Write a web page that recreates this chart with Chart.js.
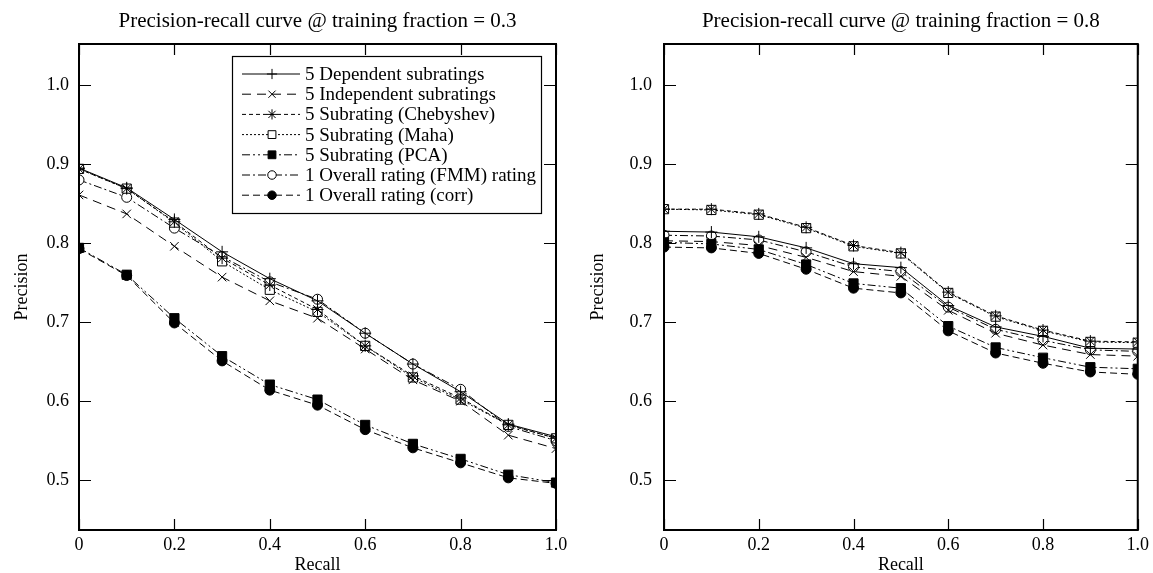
<!DOCTYPE html>
<html>
<head>
<meta charset="utf-8">
<script src="https://cdn.jsdelivr.net/npm/chart.js@4.4.1/dist/chart.umd.min.js"></script>
<style>
  html, body { margin: 0; padding: 0; background: #ffffff; }
  #wrap { position: relative; width: 1153px; height: 573px; }
  canvas { position: absolute; top: 0; }
  #c1 { left: 0; }
  #c2 { left: 576px; }
</style>
</head>
<body>
<div id="wrap">
  <canvas id="c1" width="576" height="573"></canvas>
  <canvas id="c2" width="577" height="573"></canvas>
</div>
<script>
// ---------- data ----------
const recall = [0, 0.1, 0.2, 0.3, 0.4, 0.5, 0.6, 0.7, 0.8, 0.9, 1.0];
const xTickValues = [0, 0.2, 0.4, 0.6, 0.8, 1.0];
const xTickLabels = ["0", "0.2", "0.4", "0.6", "0.8", "1.0"];
const yTickValues = [0.5, 0.6, 0.7, 0.8, 0.9, 1.0];
const yTickLabels = ["0.5", "0.6", "0.7", "0.8", "0.9", "1.0"];

const seriesNames = [
  "5 Dependent subratings",
  "5 Independent subratings",
  "5 Subrating (Chebyshev)",
  "5 Subrating (Maha)",
  "5 Subrating (PCA)",
  "1 Overall rating (FMM) rating",
  "1 Overall rating (corr)"
];

const titleLeft = "Precision-recall curve @ training fraction = 0.3";
const titleRight = "Precision-recall curve @ training fraction = 0.8";

// training fraction 0.3
const left_dependent   = [0.895, 0.870, 0.830, 0.789, 0.755, 0.727, 0.686, 0.647, 0.612, 0.571, 0.555];
const left_independent = [0.861, 0.837, 0.796, 0.757, 0.727, 0.705, 0.666, 0.627, 0.600, 0.557, 0.540];
const left_chebyshev   = [0.894, 0.869, 0.827, 0.781, 0.747, 0.716, 0.670, 0.632, 0.604, 0.570, 0.553];
const left_maha        = [0.894, 0.869, 0.826, 0.777, 0.741, 0.713, 0.670, 0.630, 0.602, 0.570, 0.553];
const left_pca         = [0.794, 0.760, 0.705, 0.657, 0.621, 0.602, 0.570, 0.546, 0.527, 0.507, 0.497];
const left_fmm         = [0.880, 0.858, 0.819, 0.783, 0.751, 0.729, 0.686, 0.647, 0.615, 0.568, 0.550];
const left_corr        = [0.793, 0.759, 0.699, 0.651, 0.614, 0.595, 0.564, 0.541, 0.522, 0.503, 0.496];

// training fraction 0.8
const right_dependent   = [0.815, 0.814, 0.808, 0.794, 0.774, 0.769, 0.721, 0.694, 0.682, 0.667, 0.666];
const right_independent = [0.803, 0.802, 0.797, 0.782, 0.764, 0.758, 0.715, 0.686, 0.671, 0.659, 0.657];
const right_chebyshev   = [0.843, 0.843, 0.837, 0.820, 0.797, 0.788, 0.738, 0.708, 0.690, 0.676, 0.675];
const right_maha        = [0.843, 0.842, 0.836, 0.819, 0.796, 0.787, 0.737, 0.707, 0.689, 0.675, 0.674];
const right_pca         = [0.801, 0.799, 0.792, 0.773, 0.749, 0.743, 0.695, 0.668, 0.655, 0.643, 0.641];
const right_fmm         = [0.810, 0.809, 0.804, 0.789, 0.770, 0.764, 0.719, 0.691, 0.677, 0.665, 0.663];
const right_corr        = [0.795, 0.794, 0.787, 0.767, 0.743, 0.737, 0.689, 0.661, 0.648, 0.637, 0.634];

// ---------- styles ----------
const FONT = "'Liberation Serif', 'Times New Roman', serif";
const FS_TICK = 18;
const FS_LEGEND = 19;
const FS_TITLE = 21;
const styles = [
  { pointStyle: 'cross',    radius: 6,   fill: '#000', dash: [] },
  { pointStyle: 'crossRot', radius: 6,   fill: '#000', dash: [9, 6] },
  { pointStyle: 'star',     radius: 6,   fill: '#000', dash: [4, 3] },
  { pointStyle: 'rect',     radius: 6.5, fill: '#fff', dash: [2, 2] },
  { pointStyle: 'rect',     radius: 6.5, fill: '#000', dash: [8, 3, 2, 3, 2, 3] },
  { pointStyle: 'circle',   radius: 5,   fill: '#fff', dash: [8, 3, 2, 3] },
  { pointStyle: 'circle',   radius: 5,   fill: '#000', dash: [7, 4] }
];

function makeDatasets(arrays) {
  return arrays.map((arr, i) => ({
    label: seriesNames[i],
    data: recall.map((r, k) => ({ x: r, y: arr[k] })),
    borderColor: '#000',
    backgroundColor: styles[i].fill,
    borderWidth: 1,
    borderDash: styles[i].dash,
    pointStyle: styles[i].pointStyle,
    pointRadius: styles[i].radius,
    pointBorderColor: '#000',
    pointBackgroundColor: styles[i].fill,
    pointBorderWidth: 1,
    tension: 0,
    fill: false
  }));
}

const framePlugin = {
  id: 'frame',
  afterDatasetsDraw(chart) {
    const { ctx, chartArea: a, scales: { x, y } } = chart;
    ctx.save();
    ctx.strokeStyle = '#000';
    ctx.lineWidth = 1.2;
    ctx.setLineDash([]);
    ctx.beginPath();
    xTickValues.forEach(v => {
      const px = Math.round(x.getPixelForValue(v)) + 0.5;
      ctx.moveTo(px, a.bottom); ctx.lineTo(px, a.bottom - 11);
      ctx.moveTo(px, a.top); ctx.lineTo(px, a.top + 11);
    });
    yTickValues.forEach(v => {
      const py = Math.round(y.getPixelForValue(v)) + 0.5;
      ctx.moveTo(a.left, py); ctx.lineTo(a.left + 12, py);
      ctx.moveTo(a.right, py); ctx.lineTo(a.right - 12, py);
    });
    ctx.stroke();
    ctx.lineWidth = 2;
    ctx.strokeRect(a.left, a.top, a.right - a.left, a.bottom - a.top);
    // title
    ctx.fillStyle = '#000';
    ctx.font = FS_TITLE + 'px ' + FONT;
    ctx.textAlign = 'center';
    ctx.textBaseline = 'middle';
    ctx.fillText(chart.options.plugins.frame.title, (a.left + a.right) / 2, 21);
    // legend
    if (chart.options.plugins.frame.legend) {
      const bx = 232, by = 56, bw = 309, bh = 157;
      ctx.fillStyle = '#fff';
      ctx.fillRect(bx, by, bw, bh);
      ctx.lineWidth = 1.2;
      ctx.strokeStyle = '#000';
      ctx.strokeRect(bx + 0.5, by + 0.5, bw, bh);
      seriesNames.forEach((name, i) => {
        const yy = 74 + i * 20.2;
        const st = styles[i];
        ctx.save();
        ctx.strokeStyle = '#000';
        ctx.lineWidth = 1;
        ctx.setLineDash(st.dash);
        ctx.beginPath();
        ctx.moveTo(242, yy); ctx.lineTo(300, yy);
        ctx.stroke();
        ctx.setLineDash([]);
        ctx.fillStyle = st.fill;
        ctx.strokeStyle = '#000';
        ctx.lineWidth = 1;
        Chart.helpers.drawPoint(ctx, { pointStyle: st.pointStyle, radius: st.radius * 0.85, rotation: 0, borderWidth: 1 }, 272, yy);
        ctx.restore();
        ctx.fillStyle = '#000';
        ctx.font = FS_LEGEND + 'px ' + FONT;
        ctx.textAlign = 'left';
        ctx.textBaseline = 'middle';
        ctx.fillText(name, 305, yy + 1);
      });
    }
    ctx.restore();
  }
};

function makeChart(canvasId, arrays, title, legend, yAxisWidth, rightPad, tickPad) {
  return new Chart(document.getElementById(canvasId), {
    type: 'line',
    data: { datasets: makeDatasets(arrays) },
    plugins: [framePlugin],
    options: {
      responsive: false,
      devicePixelRatio: 1,
      animation: false,
      layout: { padding: { top: 44, right: rightPad, left: 0, bottom: 0 } },
      plugins: {
        legend: { display: false },
        tooltip: { enabled: false },
        title: { display: false },
        frame: { title: title, legend: legend }
      },
      scales: {
        x: {
          type: 'linear',
          min: 0, max: 1,
          grid: { display: false, drawTicks: false },
          border: { display: false },
          afterBuildTicks: s => { s.ticks = xTickValues.map(v => ({ value: v })); },
          afterFit: s => { s.height = 43; },
          ticks: {
            color: '#000',
            font: { family: FONT, size: FS_TICK },
            padding: 4,
            maxRotation: 0,
            callback: (v) => xTickLabels[xTickValues.indexOf(v)]
          },
          title: { display: true, text: 'Recall', color: '#000', font: { family: FONT, size: FS_TICK }, padding: { top: 0, bottom: -3 } }
        },
        y: {
          type: 'linear',
          min: 0.437, max: 1.052,
          grid: { display: false, drawTicks: false },
          border: { display: false },
          afterBuildTicks: s => { s.ticks = yTickValues.map(v => ({ value: v })); },
          afterFit: s => { s.width = yAxisWidth; },
          ticks: {
            color: '#000',
            font: { family: FONT, size: FS_TICK },
            padding: tickPad,
            callback: (v) => { const i = yTickValues.findIndex(t => Math.abs(t - v) < 1e-9); return i >= 0 ? yTickLabels[i] : ''; }
          },
          title: { display: true, text: 'Precision', color: '#000', font: { family: FONT, size: FS_TICK }, padding: { top: 11, bottom: 4 } }
        }
      }
    }
  });
}

makeChart('c1', [left_dependent, left_independent, left_chebyshev, left_maha, left_pca, left_fmm, left_corr], titleLeft, true, 79, 20, 10);
makeChart('c2', [right_dependent, right_independent, right_chebyshev, right_maha, right_pca, right_fmm, right_corr], titleRight, false, 88, 11, 12);
</script>
</body>
</html>
